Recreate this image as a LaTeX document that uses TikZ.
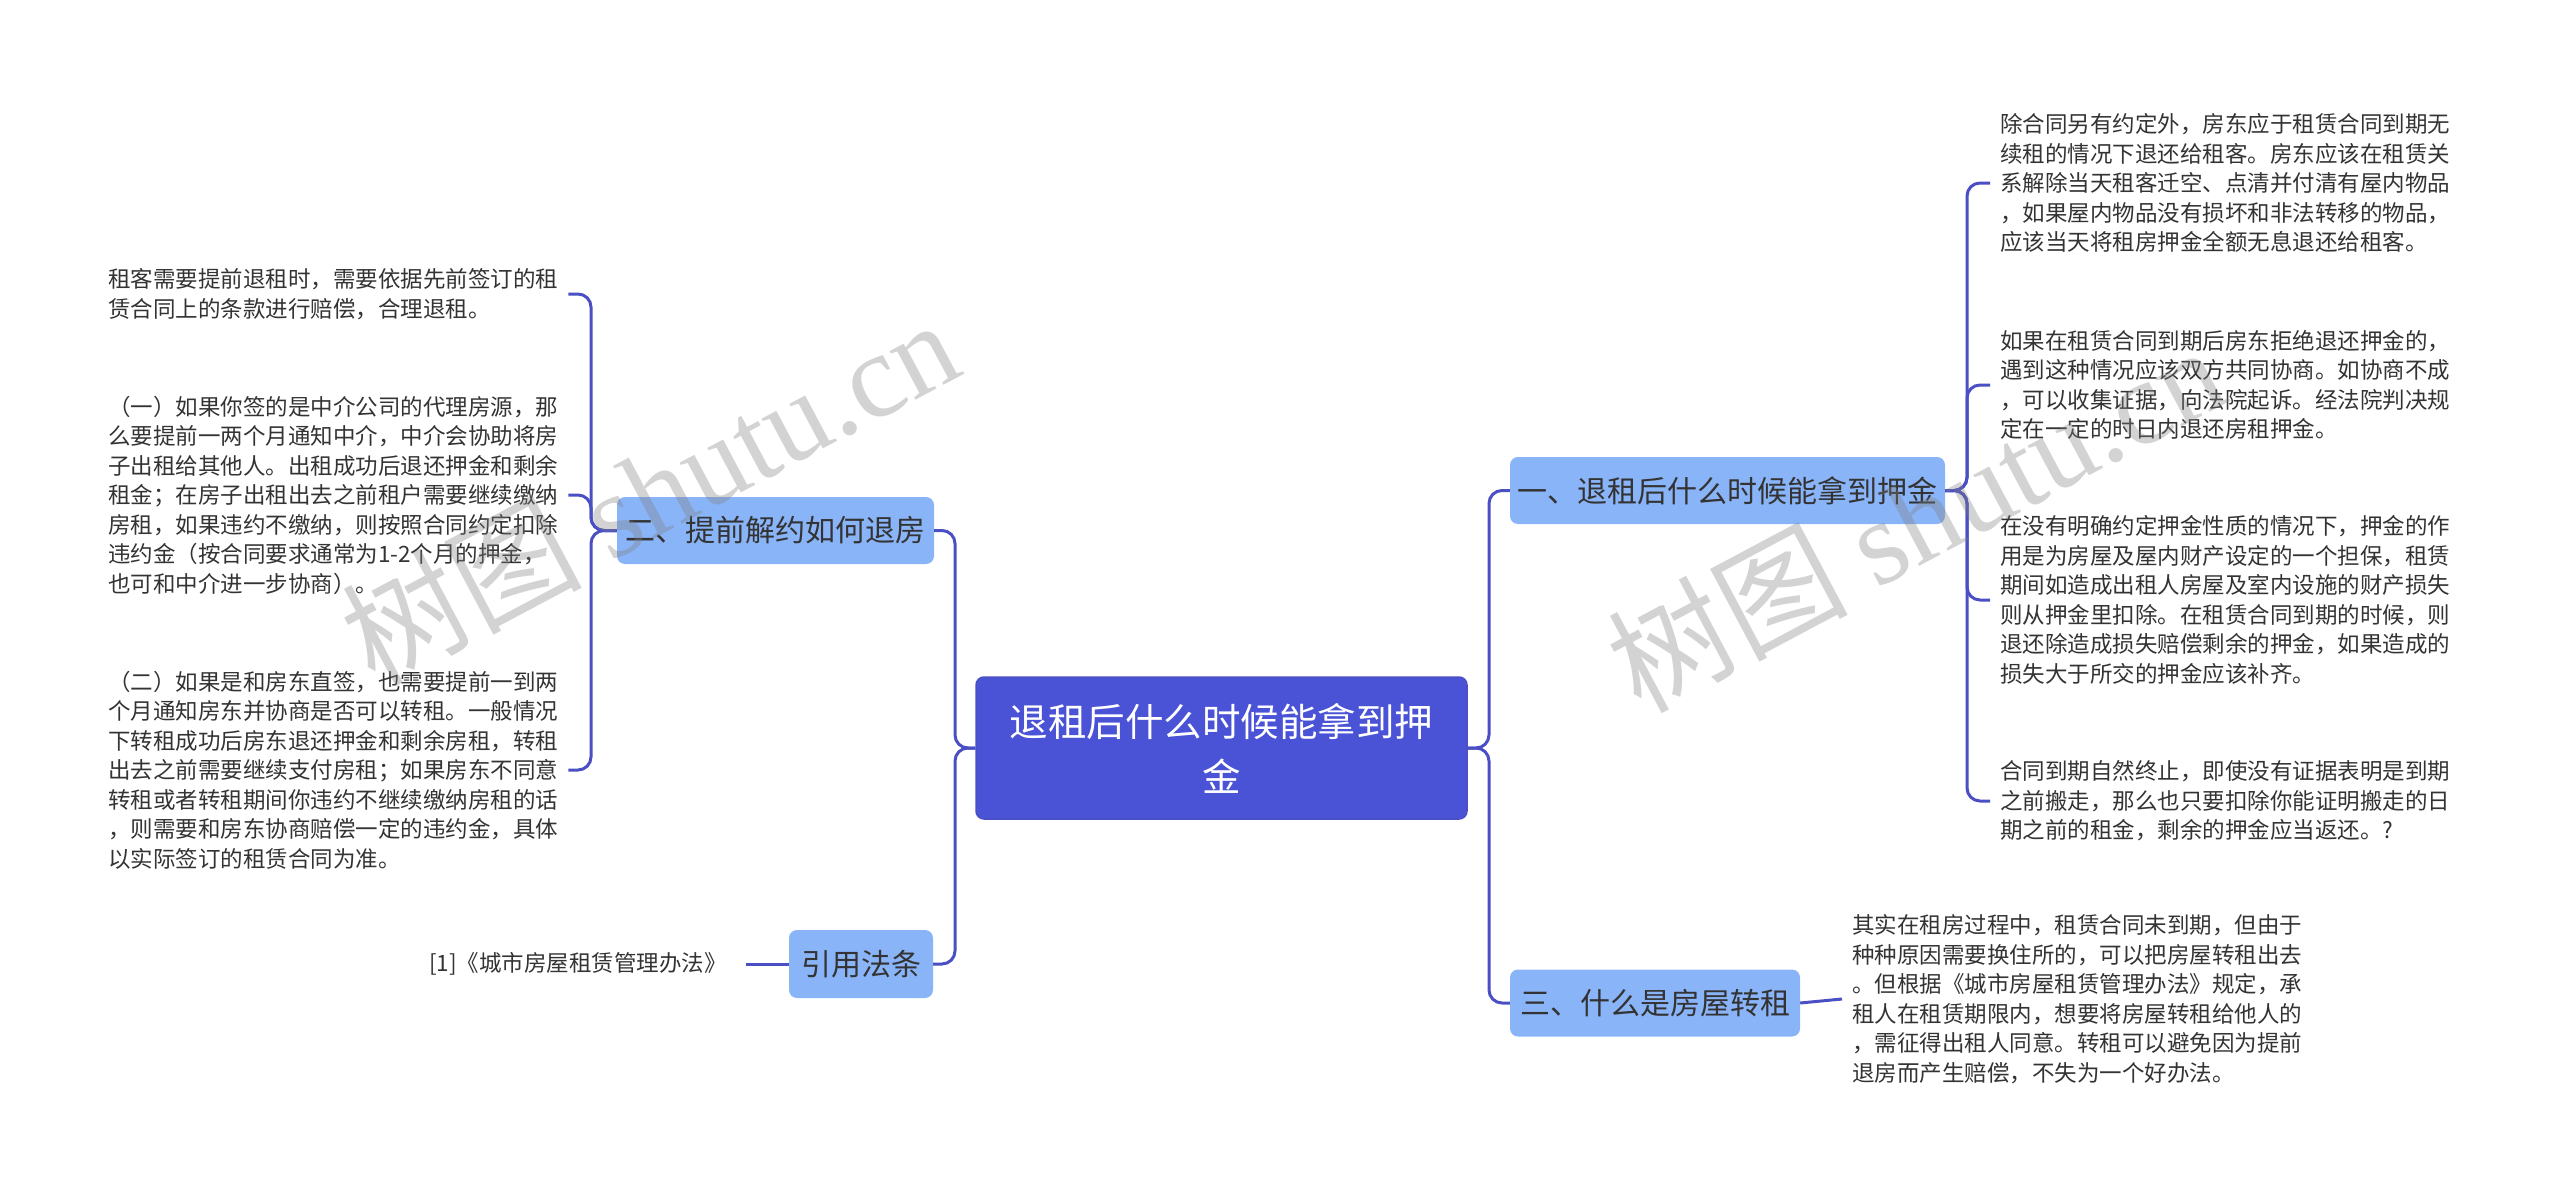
\documentclass[tikz,border=0pt]{standalone}
\usepackage{fontspec}
\setmainfont{Noto Sans CJK SC}
\newfontfamily\wmfont{Liberation Serif}
\usetikzlibrary{positioning}
\definecolor{rootblue}{HTML}{4A52D6}
\definecolor{subblue}{HTML}{8AB4F8}
\definecolor{linkblue}{HTML}{4A50C4}
\definecolor{txtgray}{HTML}{333333}

\begin{document}
\begin{tikzpicture}[x=1pt,y=-1pt,
  link/.style={draw=linkblue, line width=3pt, rounded corners=13pt},
  rootbox/.style={fill=rootblue, draw=linkblue, line width=1.5pt, rounded corners=8pt, text=white,
    font=\fontsize{38.5}{55}\selectfont, align=center, minimum width=491pt, minimum height=142pt},
  subbox/.style={fill=subblue, rounded corners=8pt, text=txtgray,
    font=\fontsize{30}{36}\selectfont, minimum height=67pt, inner xsep=0pt},
  leaf/.style={text=txtgray, font=\fontsize{22.5}{29.5}\selectfont, align=left, inner xsep=10pt, inner ysep=2pt},
  wmark/.style={text=gray, opacity=0.35, rotate=28, font=\fontsize{120}{120}\selectfont}]

\useasboundingbox (0,0) rectangle (2560,1199);

\node[rootbox] (root) at (1221.5,748) {退租后什么时候能拿到押\\金};
\node[subbox, minimum width=435pt] (qone) at (1727.5,490.5) {一、退租后什么时候能拿到押金};
\node[subbox, minimum width=290pt] (qthree) at (1655,1003) {三、什么是房屋转租};
\node[subbox, minimum width=317pt] (qtwo) at (775.5,530.5) {二、提前解约如何退房};
\node[subbox, minimum width=144pt, minimum height=68pt] (law) at (861,964) {引用法条};

\node[leaf, anchor=west] (r1) at (1990,183) {除合同另有约定外，房东应于租赁合同到期无\\
续租的情况下退还给租客。房东应该在租赁关\\
系解除当天租客迁空、点清并付清有屋内物品\\
，如果屋内物品没有损坏和非法转移的物品，\\
应该当天将租房押金全额无息退还给租客。};
\node[leaf, anchor=west] (r2) at (1990,385) {如果在租赁合同到期后房东拒绝退还押金的，\\
遇到这种情况应该双方共同协商。如协商不成\\
，可以收集证据，向法院起诉。经法院判决规\\
定在一定的时日内退还房租押金。};
\node[leaf, anchor=west] (r3) at (1990,600) {在没有明确约定押金性质的情况下，押金的作\\
用是为房屋及屋内财产设定的一个担保，租赁\\
期间如造成出租人房屋及室内设施的财产损失\\
则从押金里扣除。在租赁合同到期的时候，则\\
退还除造成损失赔偿剩余的押金，如果造成的\\
损失大于所交的押金应该补齐。};
\node[leaf, anchor=west] (r4) at (1990,801) {合同到期自然终止，即使没有证据表明是到期\\
之前搬走，那么也只要扣除你能证明搬走的日\\
期之前的租金，剩余的押金应当返还。?};
\node[leaf, anchor=west] (r5) at (1842,999) {其实在租房过程中，租赁合同未到期，但由于\\
种种原因需要换住所的，可以把房屋转租出去\\
。但根据《城市房屋租赁管理办法》规定，承\\
租人在租赁期限内，想要将房屋转租给他人的\\
，需征得出租人同意。转租可以避免因为提前\\
退房而产生赔偿，不失为一个好办法。};

\node[leaf, anchor=west] (l1) at (98,294) {租客需要提前退租时，需要依据先前签订的租\\
赁合同上的条款进行赔偿，合理退租。};
\node[leaf, anchor=west] (l2) at (98,495) {（一）如果你签的是中介公司的代理房源，那\\
么要提前一两个月通知中介，中介会协助将房\\
子出租给其他人。出租成功后退还押金和剩余\\
租金；在房子出租出去之前租户需要继续缴纳\\
房租，如果违约不缴纳，则按照合同约定扣除\\
违约金（按合同要求通常为1-2个月的押金，\\
也可和中介进一步协商）。};
\node[leaf, anchor=west] (l3) at (98,770) {（二）如果是和房东直签，也需要提前一到两\\
个月通知房东并协商是否可以转租。一般情况\\
下转租成功后房东退还押金和剩余房租，转租\\
出去之前需要继续支付房租；如果房东不同意\\
转租或者转租期间你违约不继续缴纳房租的话\\
，则需要和房东协商赔偿一定的违约金，具体\\
以实际签订的租赁合同为准。};
\node[leaf, anchor=east, inner xsep=19pt] (l4) at (746,964) {[1]《城市房屋租赁管理办法》};

\coordinate (spR) at (1489,0);
\coordinate (spL) at (955,0);
\coordinate (spA) at (1967,0);
\coordinate (spB) at (591,0);

\draw[link] (root.east) -- (root.east -| spR) |- (qone.west);
\draw[link] (root.east) -- (root.east -| spR) |- (qthree.west);
\draw[link] (root.west) -- (root.west -| spL) |- (qtwo.east);
\draw[link] (root.west) -- (root.west -| spL) |- (law.east);
\foreach \t in {r1,r2,r3,r4}
  \draw[link] (qone.east) -- (qone.east -| spA) |- (\t.west);
\draw[link] (qthree.east) -- (r5.west);
\foreach \t in {l1,l2,l3}
  \draw[link] (qtwo.west) -- (qtwo.west -| spB) |- (\t.east);
\draw[link] (law.west) -- (l4.east);

\node[wmark] (wmleft) at (649,490) {树图 {\wmfont shutu.cn}};
\node[wmark] (wmright) at (1915,517) {树图 {\wmfont shutu.cn}};

\end{tikzpicture}
\end{document}
